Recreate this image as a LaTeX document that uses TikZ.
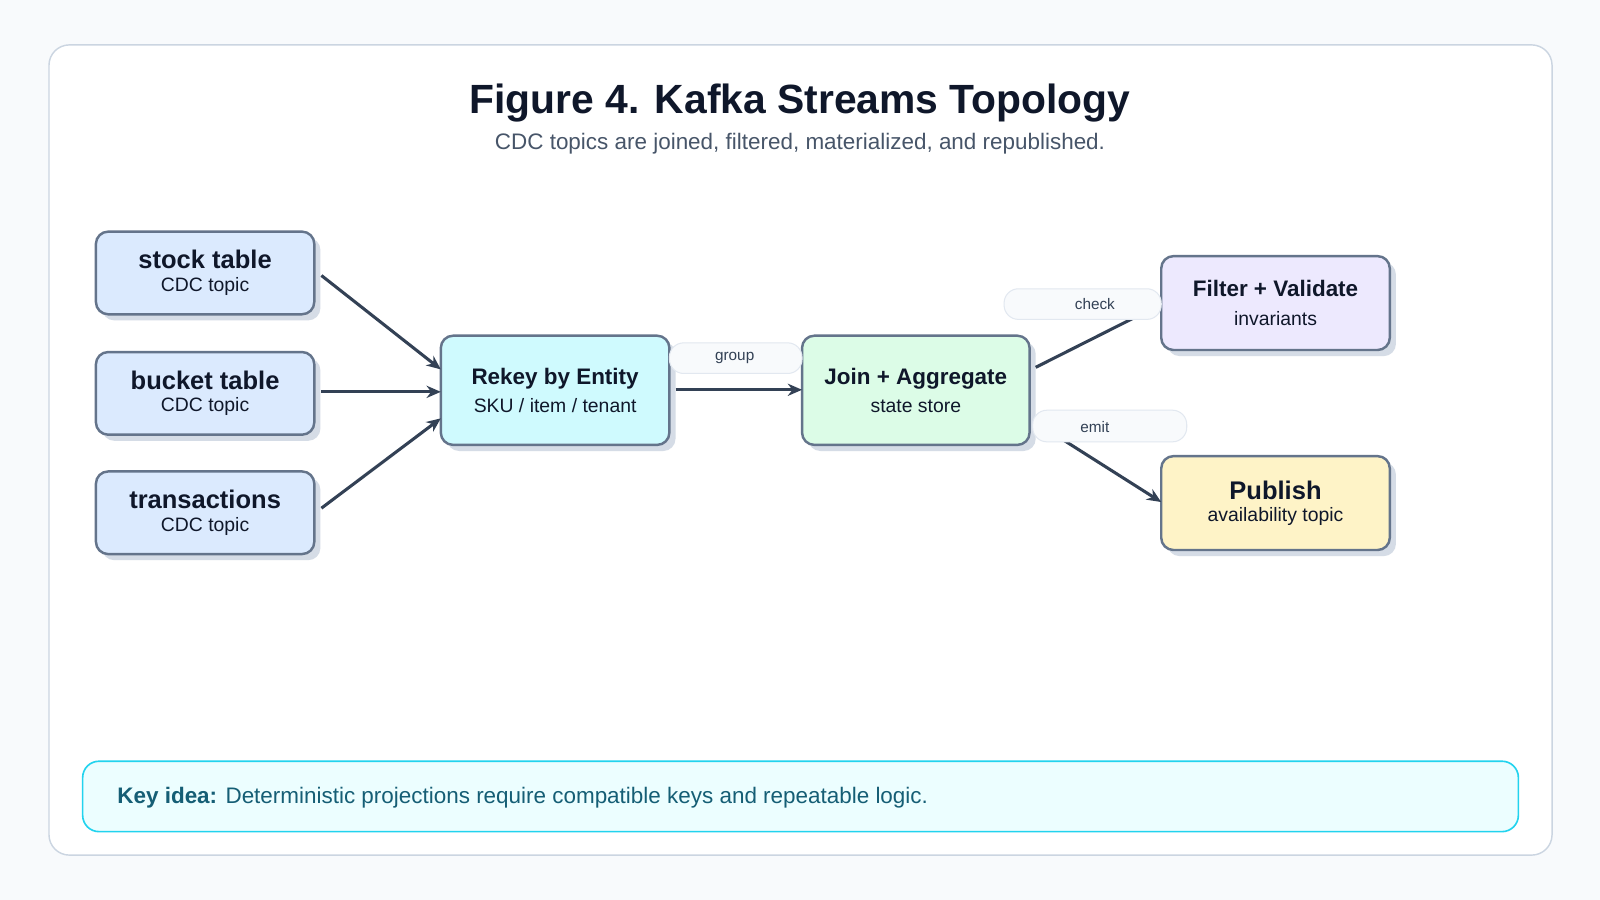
\documentclass[tikz,border=0pt]{standalone}
\usepackage{fontspec}
\setmainfont{Liberation Sans}
\usetikzlibrary{arrows.meta}
\definecolor{bg}{HTML}{F8FAFC}
\definecolor{panelb}{HTML}{CBD5E1}
\definecolor{nb}{HTML}{64748B}
\definecolor{sh}{HTML}{D5DCE6}
\definecolor{ink}{HTML}{0F172A}
\definecolor{sub}{HTML}{475569}
\definecolor{edge}{HTML}{334155}
\definecolor{cblue}{HTML}{DBEAFE}
\definecolor{ccyan}{HTML}{CFFAFE}
\definecolor{cgreen}{HTML}{DCFCE7}
\definecolor{cviolet}{HTML}{EDE9FE}
\definecolor{cyellow}{HTML}{FEF3C7}
\definecolor{keyfill}{HTML}{ECFEFF}
\definecolor{keyb}{HTML}{22D3EE}
\definecolor{keyt}{HTML}{155E75}
\definecolor{pillb}{HTML}{E2E8F0}
\tikzset{
 box/.style={draw=nb,line width=1.2pt,rounded corners=6pt,inner sep=0pt},
 shad/.style={fill=sh,rounded corners=6pt,draw=none},
 conn/.style={draw=edge,line width=1.5pt,-{Stealth[length=7pt,width=6pt]}},
 pill/.style={draw=pillb,fill=bg,line width=0.5pt,rounded corners=7pt},
 lab/.style={font=\fontsize{7.5}{9}\selectfont,text=edge}
}
\newcommand{\nbox}[7]{% name x1 y1 x2 y2 fill text
 \fill[shad] (#2+6,#3+6) rectangle (#4+6,#5+6);
 \draw[box,fill=#6] (#2,#3) rectangle (#4,#5);
 \node[align=center,text=ink] (#1) at ({(#2+#4)/2},{(#3+#5)/2}) {#7};
 \coordinate (#1w) at (#2,{(#3+#5)/2});
}
\begin{document}
\begin{tikzpicture}[x=0.5pt,y=-0.5pt]
\fill[bg] (0,0) rectangle (1568,882);
\useasboundingbox (0,0) rectangle (1568,882);
\draw[panelb,fill=white,line width=0.7pt,rounded corners=10pt] (48,44) rectangle (1521,838);
\node[font=\bfseries\fontsize{20}{24}\selectfont,text=ink] (title) at (784,101) {Figure 4. Kafka Streams Topology};
\node[font=\fontsize{11}{13}\selectfont,text=sub] (subt) at (784,141) {CDC topics are joined, filtered, materialized, and republished.};
\def\st#1#2{{\fontsize{12.5}{15}\selectfont\bfseries #1}\\[-1pt]{\fontsize{9.5}{11}\selectfont #2}}
\def\mt#1#2{{\fontsize{11}{14}\selectfont\bfseries #1}\\[2pt]{\fontsize{9.5}{11}\selectfont #2}}
\nbox{stock}{94}{227}{308}{308}{cblue}{\st{stock table}{CDC topic}}
\nbox{bucket}{94}{345}{308}{426}{cblue}{\st{bucket table}{CDC topic}}
\nbox{trans}{94}{462}{308}{543}{cblue}{\st{transactions}{CDC topic}}
\nbox{rekey}{432}{329}{656}{436}{ccyan}{\mt{Rekey by Entity}{SKU / item / tenant}}
\nbox{join}{786}{329}{1009}{436}{cgreen}{\mt{Join + Aggregate}{state store}}
\nbox{filter}{1138}{251}{1362}{343}{cviolet}{\mt{Filter + Validate}{invariants}}
\nbox{pub}{1138}{447}{1362}{539}{cyellow}{\st{Publish}{availability topic}}
\coordinate (s1) at (315,270); \coordinate (r1) at (432,362);
\coordinate (s2) at (315,384); \coordinate (r2) at (432,384);
\coordinate (s3) at (315,498); \coordinate (r3) at (432,410);
\draw[conn] (s1) -- (r1);
\draw[conn] (s2) -- (r2);
\draw[conn] (s3) -- (r3);
% group
\draw[pill] (656,336) rectangle (786,366);
\node[lab] (lgroup) at (720,351) {group};
\coordinate (g1) at (662,382); \coordinate (g2) at (786,382);
\draw[conn] (g1) -- (g2);
% check
\coordinate (c1) at (1015,360); \coordinate (c2) at (1138,298);
\draw[conn] (c1) -- (c2);
\draw[pill] (984,283) rectangle (1138,313);
\node[lab] (lcheck) at (1073,298) {check};
% emit
\coordinate (e1) at (1015,414); \coordinate (e2) at (1138,492);
\draw[conn] (e1) -- (e2);
\draw[pill] (1012,402) rectangle (1163,433);
\node[lab] (lemit) at (1073,418) {emit};
% key idea
\draw[keyb,fill=keyfill,line width=0.8pt,rounded corners=8pt] (81,746) rectangle (1488,815);
\node[anchor=west,text=keyt,font=\fontsize{11}{13}\selectfont] (key) at (108,782) {\textbf{Key idea:} Deterministic projections require compatible keys and repeatable logic.};
\end{tikzpicture}
\end{document}
